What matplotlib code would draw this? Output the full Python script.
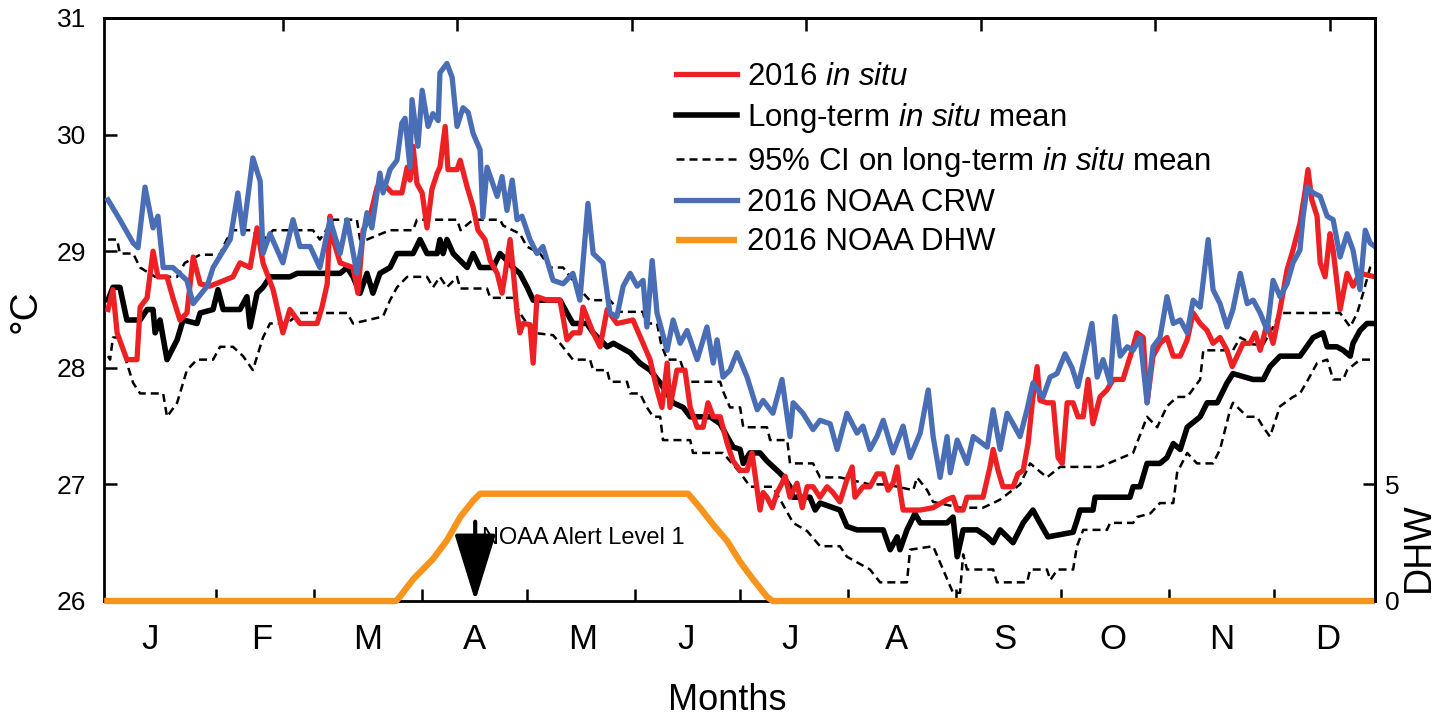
import matplotlib
matplotlib.use("Agg")
import matplotlib.pyplot as plt

# ---- data (day of year, deg C / DHW) ----
blue_day = [0, 3.4, 7.2, 8.6, 10.6, 12.9, 14.3, 15.8, 18.6, 22.6,
            24.4, 28.4, 30.1, 35.0, 37.2, 38.7, 41.5, 43.6, 44.4, 46.4,
            50.1, 53.0, 55.0, 57.9, 60.7, 63.6, 66.5, 68.5, 71.3, 74.2,
            75.6, 77.9, 78.8, 80.8, 82.8, 84.2, 85.1, 86.5, 87.1, 88.8,
            90.0, 91.7, 93.1, 94.6, 95.1, 97.1, 98.6, 100.0, 101.7, 103.2,
            104.6, 106.6, 107.4, 108.6, 111.5, 112.9, 114.3, 115.8, 117.2, 118.6,
            120.9, 122.9, 124.6, 127.5, 130.4, 133.2, 135.2, 137.5, 139.0, 141.8,
            143.8, 145.8, 147.6, 149.6, 151.6, 153.3, 154.4, 155.9, 157.3, 160.2,
            161.9, 163.9, 165.9, 168.8, 171.6, 173.4, 174.5, 176.2, 178.2, 180.2,
            183.1, 186.0, 187.7, 190.5, 193.1, 195.4, 196.3, 199.1, 202.0, 204.0,
            206.9, 208.9, 211.7, 214.6, 216.3, 218.3, 220.3, 222.1, 224.9, 227.8,
            229.8, 232.7, 235.0, 236.4, 238.4, 240.4, 241.3, 243.3, 246.1, 247.9,
            251.9, 253.6, 255.6, 257.6, 259.3, 261.3, 263.3, 265.0, 267.9, 269.9,
            271.9, 274.2, 276.2, 277.9, 279.4, 281.9, 283.4, 285.1, 287.1, 288.5,
            290.0, 292.0, 293.7, 295.7, 297.7, 299.4, 301.4, 303.4, 305.2, 307.2,
            309.2, 310.9, 312.9, 315.2, 316.6, 318.6, 320.6, 322.3, 324.4, 326.4,
            328.1, 330.1, 332.1, 333.8, 335.8, 337.8, 339.5, 341.5, 342.4, 343.6,
            345.3, 347.3, 349.3, 351.0, 353.0, 355.0, 356.7, 358.7, 360.2, 361.6,
            363.0]
blue_temp = [29.44, 29.27, 29.07, 29.03, 29.55, 29.2, 29.3, 28.86, 28.86, 28.75,
             28.55, 28.7, 28.86, 29.1, 29.5, 29.15, 29.8, 29.6, 28.98, 29.15,
             28.9, 29.27, 29.04, 29.04, 28.86, 29.27, 28.98, 29.27, 28.81, 29.33,
             29.2, 29.67, 29.5, 29.7, 29.78, 30.1, 30.14, 29.72, 30.3, 29.9,
             30.38, 30.07, 30.18, 30.12, 30.53, 30.61, 30.49, 30.07, 30.23, 30.19,
             30.01, 29.87, 29.29, 29.72, 29.47, 29.64, 29.35, 29.61, 29.27, 29.3,
             29.1, 28.98, 29.04, 28.75, 28.72, 28.81, 28.58, 29.41, 28.98, 28.9,
             28.47, 28.44, 28.7, 28.81, 28.7, 28.75, 28.35, 28.92, 28.47, 28.15,
             28.41, 28.21, 28.32, 28.07, 28.35, 28.04, 28.24, 27.92, 27.98, 28.13,
             27.92, 27.64, 27.72, 27.61, 27.9, 27.41, 27.7, 27.61, 27.47, 27.55,
             27.52, 27.3, 27.61, 27.44, 27.5, 27.3, 27.41, 27.55, 27.27, 27.5,
             27.23, 27.44, 27.81, 27.41, 27.06, 27.41, 27.1, 27.38, 27.18, 27.41,
             27.32, 27.64, 27.3, 27.61, 27.52, 27.41, 27.64, 27.87, 27.75, 27.92,
             27.95, 28.12, 28.0, 27.84, 28.04, 28.38, 27.92, 28.07, 27.87, 28.44,
             28.1, 28.18, 28.15, 28.26, 27.7, 28.18, 28.26, 28.61, 28.38, 28.41,
             28.3, 28.58, 28.52, 29.1, 28.67, 28.55, 28.35, 28.5, 28.81, 28.55,
             28.58, 28.47, 28.32, 28.75, 28.61, 28.72, 28.9, 29.01, 29.3, 29.55,
             29.5, 29.47, 29.3, 29.27, 28.95, 29.15, 29.01, 28.67, 29.18, 29.07,
             29.04]

red_day = [0, 1.4, 2.6, 5.4, 8.3, 9.2, 11.2, 12.9, 14.3, 16.9,
           18.6, 20.6, 22.6, 24.4, 26.4, 29.2, 35.8, 37.8, 40.7, 42.7,
           44.4, 47.3, 50.1, 52.1, 55.0, 59.9, 61.3, 62.8, 63.6, 64.5,
           66.5, 70.2, 71.6, 73.1, 75.1, 77.1, 78.8, 81.4, 84.2, 85.7,
           86.5, 87.4, 88.5, 90.0, 91.4, 92.8, 94.3, 95.1, 96.6, 97.4,
           100.0, 100.9, 102.9, 104.6, 106.0, 108.0, 109.5, 111.5, 112.9, 113.8,
           115.2, 116.0, 117.2, 118.0, 118.9, 120.9, 121.8, 122.9, 125.8, 129.5,
           131.5, 133.2, 135.2, 136.1, 139.0, 141.0, 143.0, 145.8, 150.4, 153.3,
           155.3, 157.3, 158.7, 160.2, 161.0, 163.0, 165.3, 166.8, 168.8, 170.5,
           171.9, 173.4, 175.4, 177.4, 179.1, 181.1, 183.1, 184.5, 186.0, 186.8,
           187.7, 188.8, 190.3, 191.7, 193.1, 194.0, 195.4, 197.4, 198.9, 200.3,
           202.0, 204.0, 206.0, 207.7, 209.7, 211.7, 213.2, 214.0, 216.3, 218.3,
           220.3, 222.1, 223.5, 224.9, 226.1, 226.9, 227.8, 232.7, 236.4, 240.4,
           242.1, 243.3, 245.0, 246.1, 250.7, 252.7, 253.6, 255.0, 256.4, 259.3,
           260.7, 262.2, 263.6, 265.0, 266.2, 267.0, 269.0, 270.8, 272.2, 273.4,
           274.8, 276.5, 277.9, 279.4, 280.8, 282.2, 284.2, 286.2, 288.0, 290.8,
           293.4, 294.8, 296.6, 297.7, 299.4, 301.4, 303.4, 305.2, 307.2, 309.2,
           310.9, 312.9, 314.9, 316.6, 318.6, 320.6, 322.1, 323.5, 325.2, 327.2,
           328.7, 330.1, 332.1, 333.8, 335.8, 337.8, 339.5, 341.5, 342.9, 343.8,
           344.9, 346.4, 347.3, 348.7, 350.1, 351.0, 353.0, 355.0, 356.7, 358.7,
           363.0]
red_temp = [28.5, 28.67, 28.3, 28.07, 28.07, 28.52, 28.6, 29.0, 28.78, 28.78,
            28.6, 28.41, 28.47, 28.95, 28.72, 28.7, 28.78, 28.9, 28.86, 29.2,
            28.9, 28.67, 28.3, 28.5, 28.38, 28.38, 28.52, 28.72, 29.3, 29.1,
            28.9, 28.86, 28.64, 29.18, 29.3, 29.55, 29.58, 29.5, 29.5, 29.72,
            29.61, 29.9, 29.58, 29.5, 29.2, 29.53, 29.67, 29.72, 30.07, 29.7,
            29.7, 29.78, 29.55, 29.38, 29.18, 29.1, 28.92, 28.81, 28.64, 28.81,
            29.1, 28.86, 28.47, 28.3, 28.38, 28.37, 28.04, 28.61, 28.58, 28.58,
            28.24, 28.3, 28.3, 28.52, 28.3, 28.18, 28.5, 28.38, 28.41, 28.21,
            28.07, 27.81, 27.66, 28.04, 27.66, 27.98, 27.98, 27.66, 27.49, 27.49,
            27.7, 27.58, 27.58, 27.35, 27.2, 27.12, 27.12, 27.27, 26.95, 26.78,
            26.93, 26.89, 26.8, 26.93, 27.01, 27.07, 26.89, 27.01, 26.8, 26.98,
            26.98, 26.89, 26.98, 26.93, 26.85, 27.04, 27.15, 26.89, 26.98, 26.98,
            27.09, 27.09, 26.95, 27.01, 27.15, 26.95, 26.78, 26.78, 26.8, 26.87,
            26.89, 26.78, 26.78, 26.89, 26.89, 27.15, 27.3, 27.12, 26.98, 26.98,
            27.09, 27.12, 27.35, 27.75, 28.01, 27.72, 27.7, 27.7, 27.23, 27.18,
            27.7, 27.7, 27.58, 27.58, 27.9, 27.52, 27.75, 27.81, 27.9, 27.9,
            28.15, 28.3, 28.26, 27.7, 28.1, 28.21, 28.26, 28.1, 28.1, 28.24,
            28.47, 28.38, 28.32, 28.21, 28.26, 28.15, 28.01, 28.1, 28.21, 28.21,
            28.3, 28.15, 28.38, 28.21, 28.5, 28.84, 29.01, 29.24, 29.5, 29.7,
            29.44, 29.3, 28.9, 28.78, 29.15, 29.01, 28.5, 28.81, 28.7, 28.81,
            28.78]

mean_day = [0, 1.4, 3.4, 5.4, 9.2, 11.2, 12.9, 13.5, 14.9, 16.9,
            19.8, 21.5, 25.5, 26.4, 30.1, 31.5, 33.0, 37.8, 39.8, 40.7,
            42.7, 44.4, 46.4, 52.1, 54.2, 66.5, 68.5, 70.2, 72.2, 74.2,
            75.9, 77.9, 80.8, 82.8, 87.4, 89.4, 91.4, 94.3, 95.1, 96.0,
            97.1, 98.9, 100.9, 102.9, 104.6, 106.6, 110.3, 112.3, 114.3, 116.0,
            118.0, 120.1, 121.8, 129.5, 131.5, 133.2, 137.2, 139.0, 143.0, 144.8,
            149.6, 152.4, 155.3, 158.2, 160.2, 161.9, 164.8, 166.8, 172.5, 175.4,
            177.4, 179.1, 181.1, 182.0, 183.9, 186.8, 188.8, 191.7, 193.4, 195.4,
            196.3, 201.1, 202.6, 204.0, 209.7, 211.7, 214.6, 222.1, 224.1, 226.1,
            226.9, 228.9, 231.2, 232.7, 240.4, 242.1, 243.3, 245.0, 249.0, 251.9,
            253.6, 255.6, 259.3, 262.2, 265.0, 267.0, 269.3, 276.5, 277.6, 278.5,
            282.2, 282.8, 292.8, 293.7, 295.7, 297.7, 301.4, 303.4, 305.2, 307.2,
            309.2, 312.9, 314.9, 317.8, 320.6, 322.3, 328.1, 331.0, 332.9, 335.8,
            341.5, 345.3, 348.1, 349.3, 352.1, 353.9, 355.9, 356.7, 358.7, 360.7,
            363.0]
mean_temp = [28.58, 28.69, 28.69, 28.41, 28.41, 28.5, 28.5, 28.3, 28.41, 28.07,
             28.24, 28.41, 28.38, 28.47, 28.5, 28.67, 28.5, 28.5, 28.61, 28.35,
             28.64, 28.69, 28.78, 28.78, 28.81, 28.81, 28.86, 28.78, 28.64, 28.81,
             28.64, 28.81, 28.86, 28.98, 28.98, 29.1, 28.98, 28.98, 29.1, 28.98,
             29.1, 28.98, 28.92, 28.86, 28.98, 28.86, 28.86, 28.98, 28.92, 28.86,
             28.81, 28.69, 28.58, 28.58, 28.47, 28.38, 28.38, 28.3, 28.18, 28.21,
             28.13, 28.04, 27.98, 27.87, 27.78, 27.7, 27.66, 27.58, 27.58, 27.52,
             27.41, 27.32, 27.3, 27.18, 27.27, 27.27, 27.2, 27.12, 27.07, 26.98,
             26.89, 26.89, 26.78, 26.84, 26.78, 26.64, 26.61, 26.61, 26.44, 26.55,
             26.44, 26.61, 26.75, 26.67, 26.67, 26.72, 26.38, 26.61, 26.61, 26.55,
             26.5, 26.61, 26.5, 26.67, 26.78, 26.67, 26.55, 26.59, 26.69, 26.78,
             26.78, 26.89, 26.89, 26.98, 26.98, 27.18, 27.18, 27.23, 27.35, 27.3,
             27.49, 27.58, 27.7, 27.7, 27.87, 27.95, 27.9, 27.9, 28.01, 28.1,
             28.1, 28.26, 28.3, 28.18, 28.18, 28.15, 28.1, 28.21, 28.32, 28.38,
             28.38]

ci_hi_day = [0, 2.6, 3.4, 7.2, 9.2, 13.5, 19.8, 22.0, 26.4, 32.0,
             34.0, 35.8, 41.5, 43.6, 47.3, 58.7, 60.7, 64.5, 71.3, 72.2,
             74.2, 80.8, 87.4, 88.5, 100.0, 101.0, 104.6, 112.3, 113.2, 118.0,
             120.0, 123.8, 126.6, 130.4, 132.4, 135.2, 138.0, 143.8, 146.7, 153.3,
             153.9, 157.3, 158.5, 160.2, 163.9, 165.9, 175.4, 176.2, 178.2, 181.1,
             182.0, 188.8, 189.7, 194.6, 195.4, 202.0, 204.0, 209.7, 218.3, 223.2,
             230.7, 231.8, 234.7, 236.4, 244.1, 250.7, 253.6, 255.6, 261.3, 264.2,
             269.0, 272.8, 284.2, 293.7, 297.7, 300.6, 303.4, 306.3, 309.2, 312.9,
             313.8, 322.3, 324.4, 328.1, 331.0, 333.8, 335.8, 353.0, 355.9, 357.9,
             359.6, 361.6, 363.0]
ci_hi = [29.1, 29.1, 28.98, 28.98, 28.86, 28.78, 28.78, 28.9, 28.97, 28.97,
         29.1, 29.18, 29.18, 29.07, 29.18, 29.18, 29.1, 29.27, 29.27, 29.1,
         29.1, 29.18, 29.18, 29.27, 29.27, 29.18, 29.27, 29.27, 29.22, 29.15,
         29.04, 28.98, 28.86, 28.86, 28.78, 28.67, 28.58, 28.58, 28.48, 28.48,
         28.38, 28.38, 28.2, 28.07, 28.07, 27.88, 27.88, 27.8, 27.66, 27.66,
         27.49, 27.49, 27.38, 27.38, 27.18, 27.18, 27.06, 27.06, 27.0, 27.0,
         26.95, 27.06, 26.95, 26.85, 26.8, 26.8, 26.84, 26.87, 27.0, 27.18,
         27.06, 27.15, 27.15, 27.27, 27.58, 27.49, 27.67, 27.75, 27.75, 27.9,
         28.15, 28.15, 28.26, 28.2, 28.2, 28.35, 28.47, 28.47, 28.35, 28.47,
         28.64, 28.86, 28.9]

ci_lo_day = [0, 0.6, 1.4, 3.4, 5.4, 7.2, 9.2, 15.8, 16.9, 19.8,
             22.6, 25.5, 30.1, 32.1, 35.8, 38.7, 41.5, 44.4, 46.4, 51.3,
             55.0, 68.5, 70.2, 78.8, 80.8, 82.8, 85.7, 91.4, 93.1, 95.1,
             97.1, 100.0, 100.9, 108.6, 109.5, 116.0, 118.0, 121.8, 127.5, 129.5,
             133.2, 138.1, 139.0, 143.0, 143.8, 148.7, 149.6, 152.4, 154.4, 156.2,
             158.2, 159.0, 166.8, 167.6, 176.2, 181.1, 184.0, 190.5, 196.3, 200.3,
             204.0, 209.7, 211.7, 218.3, 221.2, 228.9, 229.8, 236.4, 242.1, 244.1,
             245.0, 246.1, 253.6, 254.7, 263.3, 264.2, 269.0, 270.0, 272.0, 276.5,
             277.6, 279.4, 286.2, 287.1, 293.7, 294.8, 298.6, 301.4, 305.2, 306.3,
             309.2, 312.0, 316.6, 318.6, 321.5, 322.3, 326.4, 329.2, 331.0, 332.9,
             335.8, 339.5, 341.5, 343.3, 346.4, 349.3, 351.0, 353.9, 355.0, 358.7,
             363.0]
ci_lo = [28.1, 28.07, 28.26, 28.26, 28.04, 27.87, 27.78, 27.78, 27.58, 27.7,
         27.98, 28.07, 28.07, 28.18, 28.18, 28.1, 27.98, 28.26, 28.38, 28.38,
         28.47, 28.47, 28.38, 28.44, 28.58, 28.69, 28.78, 28.78, 28.69, 28.78,
         28.69, 28.78, 28.68, 28.68, 28.6, 28.6, 28.47, 28.3, 28.28, 28.21,
         28.07, 28.07, 27.98, 27.98, 27.88, 27.88, 27.78, 27.78, 27.66, 27.58,
         27.58, 27.38, 27.38, 27.27, 27.27, 27.1, 26.98, 26.98, 26.67, 26.6,
         26.47, 26.47, 26.38, 26.27, 26.16, 26.16, 26.44, 26.47, 26.07, 26.07,
         26.4, 26.27, 26.27, 26.16, 26.16, 26.27, 26.27, 26.18, 26.27, 26.27,
         26.47, 26.61, 26.61, 26.67, 26.67, 26.72, 26.75, 26.84, 26.84, 27.1,
         27.27, 27.18, 27.18, 27.3, 27.64, 27.7, 27.58, 27.58, 27.49, 27.41,
         27.67, 27.75, 27.78, 27.87, 28.04, 28.07, 27.9, 27.9, 27.98, 28.07,
         28.07]

dhw_day = [-1.1, 82.5, 83.7, 87.4, 93.1, 97.1, 100.9, 104.6, 106.6,
           166.2, 169.6, 173.4, 177.4, 181.1, 184.8, 188.8, 190.5, 363.0]
dhw = [0, 0, 0.2, 0.93, 1.8, 2.6, 3.6, 4.3, 4.6,
       4.6, 4.0, 3.27, 2.57, 1.68, 0.93, 0.18, 0, 0]

month_edges = [31, 59, 90, 120, 151, 181, 212, 243, 273, 304, 334]
month_label_pos = [12, 44, 74.5, 105, 136, 165.5, 195.5, 226, 257, 288, 319, 349.5]
month_labels = ["J", "F", "M", "A", "M", "J", "J", "A", "S", "O", "N", "D"]
top_ticks = [50, 100, 150, 200, 250, 300, 350]
alert_day = 105.2

RED = "#ED2024"
BLUE = "#4A6EB6"
ORANGE = "#F7941D"

plt.rcParams["font.family"] = ["Liberation Sans", "DejaVu Sans"]
plt.rcParams["mathtext.fontset"] = "custom"
plt.rcParams["mathtext.rm"] = "Liberation Sans"
plt.rcParams["mathtext.it"] = "Liberation Sans:italic"

W, H = 1446, 721
fig = plt.figure(figsize=(W / 100, H / 100), dpi=100)
ax = fig.add_axes([104 / W, 1 - 601 / H, (1375 - 104) / W, (601 - 18) / H])

dash = (0, (3.2, 2.0))
l_hi, = ax.plot(ci_hi_day, ci_hi, color="k", lw=1.8, ls=dash, zorder=2)
ax.plot(ci_lo_day, ci_lo, color="k", lw=1.8, ls=dash, zorder=2)
l_mean, = ax.plot(mean_day, mean_temp, color="k", lw=4.0, zorder=3)
l_red, = ax.plot(red_day, red_temp, color=RED, lw=3.8, zorder=4)
l_blue, = ax.plot(blue_day, blue_temp, color=BLUE, lw=3.8, zorder=5)

ax.set_xlim(-1.15, 363)
ax.set_ylim(26, 31)
ax.set_yticks([26, 27, 28, 29, 30, 31])
ax.tick_params(axis="y", direction="in", length=9, width=1.8, labelsize=19, pad=13)
ax.set_xticks(month_edges)
ax.set_xticks(month_label_pos, minor=True)
ax.set_xticklabels([""] * len(month_edges))
ax.set_xticklabels(month_labels, minor=True)
ax.tick_params(axis="x", which="major", direction="in", length=9, width=1.8)
ax.tick_params(axis="x", which="minor", length=0, labelsize=25, pad=16)
for s in ax.spines.values():
    s.set_linewidth(2.0)

top = ax.secondary_xaxis("top")
top.set_xticks(top_ticks)
top.set_xticklabels([""] * len(top_ticks))
top.tick_params(direction="in", length=9, width=1.8)
top.spines["top"].set_linewidth(2.0)

# DHW on the right axis
ax2 = ax.twinx()
l_dhw, = ax2.plot(dhw_day, dhw, color=ORANGE, lw=4.6, clip_on=False,
                  solid_capstyle="butt")
ax2.set_ylim(0, 25)
ax2.set_yticks([0, 5])
ax2.tick_params(axis="y", direction="in", length=9, width=1.8, labelsize=19, pad=7)
for k in ("left", "top", "bottom"):
    ax2.spines[k].set_visible(False)
ax2.spines["right"].set_linewidth(2.0)

# alert arrow
ax.annotate("", xy=(alert_day, 26.0), xytext=(alert_day, 26.68),
            arrowprops=dict(arrowstyle="-|>,head_length=4.2,head_width=1.3",
                            mutation_scale=10, lw=3, color="k",
                            shrinkA=0, shrinkB=0), zorder=6)
ax.text(107.2, 26.54, "NOAA Alert Level 1", fontsize=17, va="center", ha="left")

handles = [l_red, l_mean, l_hi, l_blue, l_dhw]
labels = ["2016 $\\mathit{in\\ situ}$",
          "Long-term $\\mathit{in\\ situ}$ mean",
          "95% CI on long-term $\\mathit{in\\ situ}$ mean",
          "2016 NOAA CRW",
          "2016 NOAA DHW"]
ax.legend(handles, labels, loc="upper left", bbox_to_anchor=(676 / W, 1 - 62 / H),
          bbox_transform=fig.transFigure, frameon=False, fontsize=22.5,
          handlelength=1.95, handletextpad=0.32, labelspacing=0.3,
          borderpad=0, borderaxespad=0)

fig.text(26 / W, 1 - 311 / H, "°C", rotation=90, fontsize=28, ha="center", va="center")
fig.text(727 / W, 1 - 700 / H, "Months", fontsize=26, ha="center", va="center")
fig.text(1419 / W, 1 - 547 / H, "DHW", rotation=90, fontsize=27, ha="center", va="center")

fig.savefig("out.png", dpi=100)
